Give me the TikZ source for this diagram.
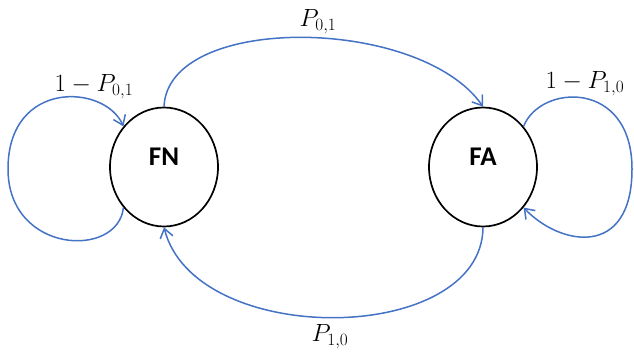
\documentclass[tikz,border=0pt]{standalone}
\usepackage{fontspec}
\newfontfamily\labelfont{Carlito}
\usetikzlibrary{arrows.meta,shapes.geometric}
\definecolor{lineblue}{RGB}{68,114,196}
\tikzset{
  state/.style={ellipse, draw=black, line width=1.7pt, minimum width=108pt, minimum height=119pt, inner sep=0pt},
  statetext/.style={font=\labelfont\bfseries\fontsize{27}{30}\selectfont, inner sep=0pt},
  loopline/.style={draw=lineblue, line width=1.5pt},
  trans/.style={loopline, -{Straight Barb[length=9pt,width=13pt,line width=1.5pt]}},
  prob/.style={font=\fontsize{23}{26}\selectfont, inner sep=0pt}
}
\begin{document}
\begin{tikzpicture}[x=1pt,y=1pt]
\useasboundingbox (0,0) rectangle (634,354);
\node[state] (FN) at (164,187) {};
\node[state] (FA) at (483,187) {};
\node[statetext] (FNt) at ([yshift=10pt]FN.center) {FN};
\node[statetext] (FAt) at ([yshift=10pt]FA.center) {FA};
\coordinate (lft) at (8,185);
\coordinate (rgt) at (632,185);
% top arc
\draw[trans] (FN.north) .. controls (168,341) and (420,338) .. (FA.north);
% bottom arc
\draw[trans] (FA.south) .. controls (482,8) and (195,5) .. (FN.south);
% left self loop
\draw[loopline] (FN.225) .. controls (118,95) and (8,100) .. (lft);
\draw[trans] (lft) .. controls (8,275) and (105,270) .. (FN.135);
% right self loop
\draw[loopline] (FA.45) .. controls (540,270) and (632,275) .. (rgt);
\draw[trans] (rgt) .. controls (632,95) and (560,108) .. (FA.-45);
% labels
\node[prob] (l01) at (318,332) {$P_{0,1}$};
\node[prob] (l10) at (330,17) {$P_{1,0}$};
\node[prob] (s0) at (94,267) {$1-P_{0,1}$};
\node[prob] (s1) at (585,270) {$1-P_{1,0}$};
\end{tikzpicture}
\end{document}
